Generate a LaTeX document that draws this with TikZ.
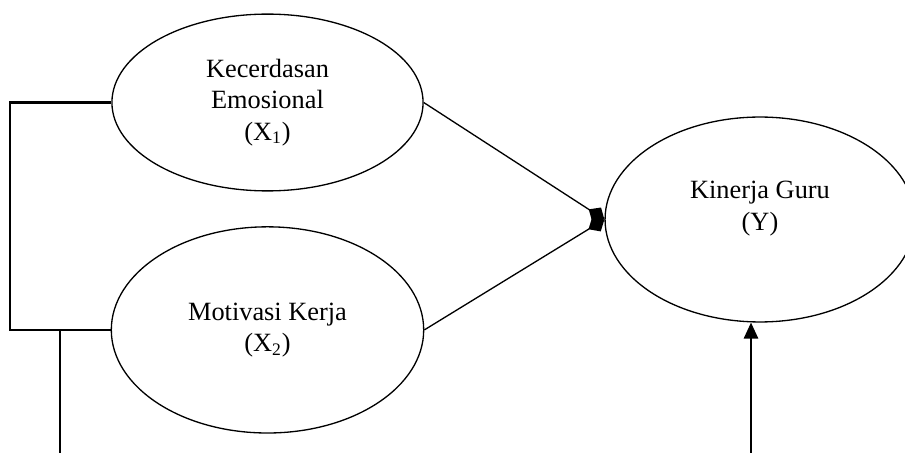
\documentclass[tikz,border=0pt]{standalone}
\usepackage{fontspec}
\setmainfont{Liberation Serif}
\usepackage{tikz}
\usetikzlibrary{
    shapes,
    shapes.geometric,
    positioning,
    calc,
    arrows.meta
}
\tikzset{
  construct/.style = {
      draw,
      ellipse,
      line width=0.6pt,
      inner sep=0pt,
      minimum width=4.98cm,
      minimum height=2.83cm,
      align=center,
      font=\fontsize{12pt}{14.2pt}\selectfont
  },
  caption/.style = {
      align=center,
      inner sep=0pt,
      font=\fontsize{12pt}{14.2pt}\selectfont
  },
  path/.style = {
      -{Diamond[length=8.5pt,width=7.5pt]}
  },
  bracket/.style = {
      line width=1.1pt
  },
  arrowup/.style = {
      line width=0.6pt,
      -{Triangle[length=7.3pt,width=6.6pt]}
  }
}

\begin{document}
\begin{tikzpicture}[x=0.016cm, y=-0.016cm, node distance=3.64cm]
        \useasboundingbox (0,0) rectangle (905,453);
        \clip (0,0) rectangle (905,453);
        % Nodes
        \node[construct] (x1) at (267.5,102.5) {Kecerdasan\\Emosional\\(X\textsubscript{1})};
        \node[construct, minimum width=5cm, minimum height=3.3cm, below of=x1] (x2) {Motivasi Kerja\\(X\textsubscript{2})};
        \node[construct, minimum width=4.96cm, minimum height=3.28cm] (y) at (760,219.5) {};
        \node[caption] (ytext) at (760,208.5) {Kinerja Guru\\(Y)};
        \coordinate (lft) at (10,0);
        \coordinate (tail) at (60,453);
        \coordinate (ytail) at (751,453);
        % Edges
        \path[draw, line width=0.6pt]
        (x1.east) edge[path] (y.west)
        (x2.east) edge[path] (y.west);
        \draw[bracket] (x1.west) -- (x1.west -| lft) -- (x2.west -| lft) -- (x2.west);
        \draw[bracket] (tail) -- (tail |- x2.west);
        \draw[arrowup] (ytail) -- (ytail |- y.south);
    \end{tikzpicture}
\end{document}
